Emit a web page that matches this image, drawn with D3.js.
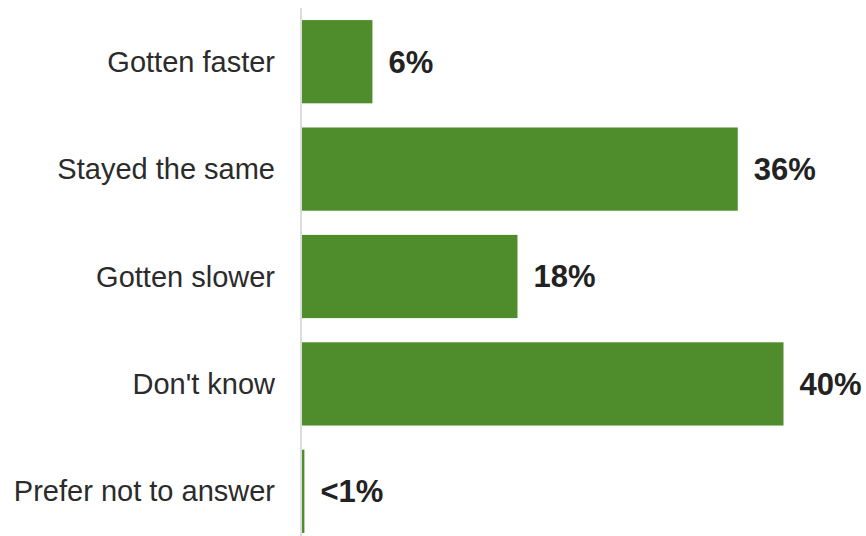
<!DOCTYPE html>
<html lang="en">
<head>
<meta charset="utf-8">
<title>Speed</title>
<script src="https://cdn.jsdelivr.net/npm/d3@7"></script>
<style>
  body { margin: 0; background: #fff; }
</style>
</head>
<body>
<div id="chart"></div>
<script>
// answers and shares (%)
var categories = ["Gotten faster", "Stayed the same", "Gotten slower", "Don't know", "Prefer not to answer"]
var values = [5.85, 36.2, 17.9, 40.0, 0.2]
var valueLabels = ["6%", "36%", "18%", "40%", "<1%"]

var w = 866
var h = 536
var left = 301

var svg = d3.select("#chart")
    .append("svg")
    .attr("width", w)
    .attr("height", h)

var xScale = d3.scaleLinear()
    .domain([0, 40])
    .range([left, left + 481.5])

var yScale = d3.scaleBand()
    .domain(categories)
    .range([8, 545])
    .paddingInner(0.225)
    .paddingOuter(0.1125)

// bars
svg.selectAll("rect.bar")
    .data(values)
    .enter()
    .append("rect")
    .attr("class", "bar")
    .attr("x", xScale(0) + 1)
    .attr("y", function(d, i) { return yScale(categories[i]) })
    .attr("width", function(d) { return xScale(d) - xScale(0) })
    .attr("height", yScale.bandwidth())
    .style("fill", "#4e8c2c")

// axis line
svg.append("line")
    .attr("x1", xScale(0))
    .attr("x2", xScale(0))
    .attr("y1", 8)
    .attr("y2", h)
    .style("stroke", "#dcdcdc")
    .style("stroke-width", 2)

// category labels
svg.selectAll("text.cat")
    .data(categories)
    .enter()
    .append("text")
    .attr("class", "cat")
    .text(function(d) { return d })
    .attr("x", left - 26)
    .attr("y", function(d) { return yScale(d) + yScale.bandwidth() / 2 })
    .attr("dy", "0.35em")
    .attr("text-anchor", "end")
    .attr("font-family", "Liberation Sans, Arial, sans-serif")
    .attr("font-size", "29px")
    .attr("fill", "#2b2b2b")

// value labels
svg.selectAll("text.val")
    .data(values)
    .enter()
    .append("text")
    .attr("class", "val")
    .text(function(d, i) { return valueLabels[i] })
    .attr("x", function(d) { return xScale(d) + 17 })
    .attr("y", function(d, i) { return yScale(categories[i]) + yScale.bandwidth() / 2 })
    .attr("dy", "0.35em")
    .attr("font-family", "Liberation Sans, Arial, sans-serif")
    .attr("font-weight", "bold")
    .attr("font-size", "31px")
    .attr("fill", "#222")
</script>
</body>
</html>
